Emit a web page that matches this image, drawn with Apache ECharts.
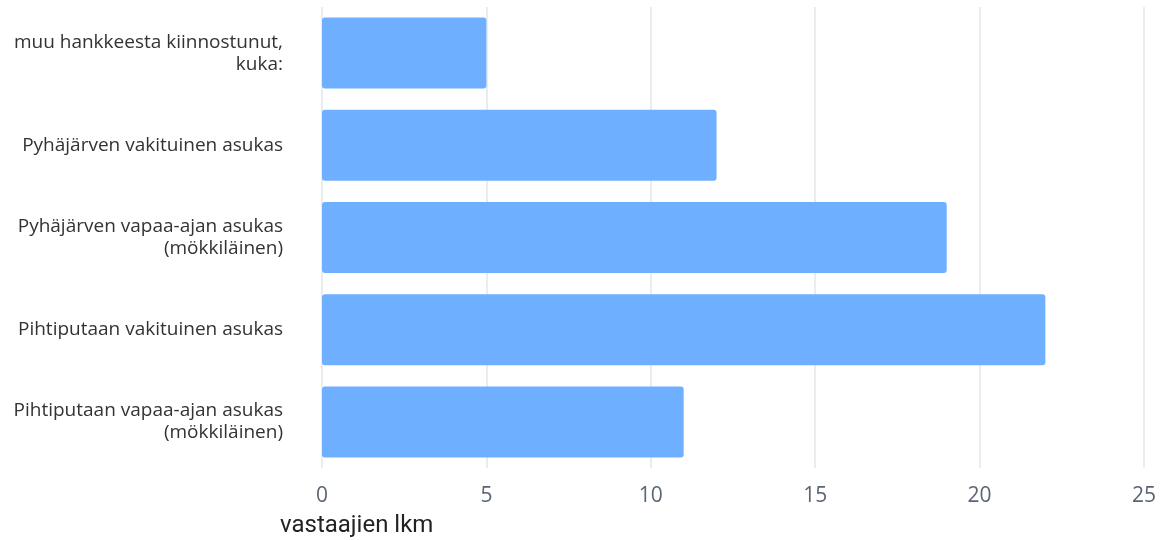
<!DOCTYPE html>
<html>
<head>
<meta charset="utf-8">
<script src="https://cdn.jsdelivr.net/npm/echarts@6/dist/echarts.min.js"></script>
<style>
  html, body { margin: 0; padding: 0; background: #fff; }
  #chart { width: 1162px; height: 540px; }
</style>
</head>
<body>
<div id="chart"></div>
<script>
// Respondent groups, top to bottom
const categories = [
  'muu hankkeesta kiinnostunut,\nkuka:',
  'Pyhäjärven vakituinen asukas',
  'Pyhäjärven vapaa-ajan asukas\n(mökkiläinen)',
  'Pihtiputaan vakituinen asukas',
  'Pihtiputaan vapaa-ajan asukas\n(mökkiläinen)'
];
// Number of respondents per group
const counts = [5, 12, 19, 22, 11];
const xTicks = [0, 5, 10, 15, 20, 25];
const axisTitle = 'vastaajien lkm';

const chart = echarts.init(document.getElementById('chart'));
chart.setOption({
  animation: false,
  grid: { left: 322, right: 18, top: 7, bottom: 72, containLabel: false },
  xAxis: {
    type: 'value',
    min: xTicks[0],
    max: xTicks[xTicks.length - 1],
    interval: 5,
    axisLine: { show: false },
    axisTick: { show: false },
    splitLine: { show: true, lineStyle: { color: '#e8eef0', width: 2 } },
    axisLabel: {
      margin: 18,
      fontSize: 21,
      color: '#5b6674',
      fontFamily: 'Open Sans'
    }
  },
  yAxis: {
    type: 'category',
    inverse: true,
    data: categories,
    axisLine: { show: false },
    axisTick: { show: false },
    axisLabel: {
      margin: 39,
      fontSize: 19,
      lineHeight: 22,
      color: '#333',
      fontFamily: 'Open Sans',
      align: 'right'
    }
  },
  graphic: [{
    type: 'text',
    left: 280,
    top: 514,
    style: {
      text: axisTitle,
      fontSize: 24,
      fill: '#222',
      fontFamily: 'Roboto'
    }
  }],
  series: [{
    type: 'bar',
    data: counts,
    barCategoryGap: '23%',
    itemStyle: { color: '#6eb0ff', borderRadius: 3 }
  }]
});
</script>
</body>
</html>
